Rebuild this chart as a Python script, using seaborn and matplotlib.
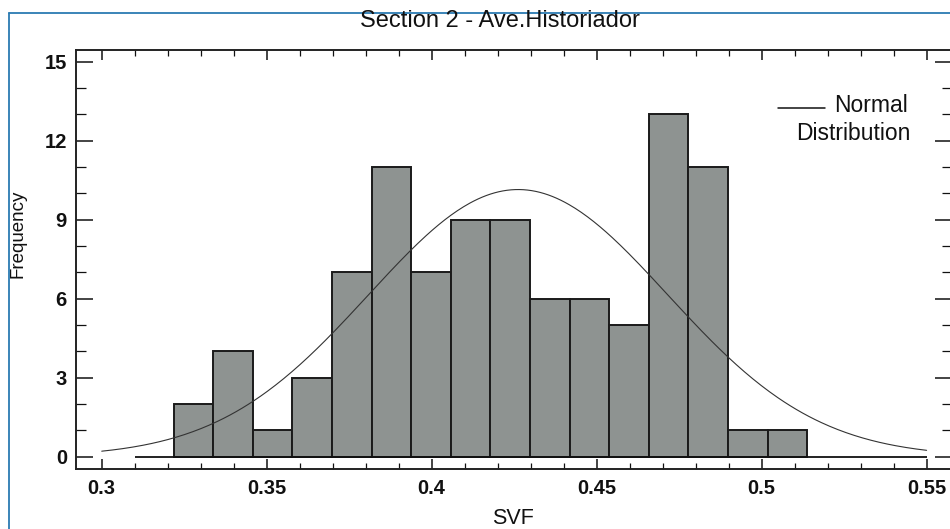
import numpy as np
import pandas as pd
import matplotlib
matplotlib.use("Agg")
import matplotlib.pyplot as plt
from matplotlib.lines import Line2D
from matplotlib.ticker import MultipleLocator
import seaborn as sns

# ---- data ----
counts = [2, 4, 1, 3, 7, 11, 7, 9, 9, 6, 6, 5, 13, 11, 1, 1]
bin_start = 0.3218
bin_width = 0.012
normal_mean = 0.4262
normal_sd = 0.0453
curve_range = (0.30, 0.55)
x_ticks = [0.3, 0.35, 0.4, 0.45, 0.5, 0.55]
x_tick_labels = ["0.3", "0.35", "0.4", "0.45", "0.5", "0.55"]
y_ticks = [0, 3, 6, 9, 12, 15]
title = "Section 2 - Ave.Historiador"

sns.set_theme(style="white")
plt.rcParams["font.family"] = ["Liberation Sans", "DejaVu Sans"]

edges = bin_start + bin_width * np.arange(len(counts) + 1)
centers = (edges[:-1] + edges[1:]) / 2
df = pd.DataFrame({"SVF": centers, "count": counts})

n_total = sum(counts)
xc = np.linspace(curve_range[0], curve_range[1], 400)
yc = n_total * bin_width / (normal_sd * np.sqrt(2 * np.pi)) * np.exp(-0.5 * ((xc - normal_mean) / normal_sd) ** 2)
curve = pd.DataFrame({"x": xc, "y": yc})

W, H = 950, 529
fig = plt.figure(figsize=(W / 100, H / 100), dpi=100)
ax = fig.add_axes([76 / W, (H - 469) / H, 876 / W, 419 / H])

sns.histplot(data=df, x="SVF", weights="count", binwidth=bin_width,
             binrange=(float(edges[0]), float(edges[-1])), stat="count",
             color="#8e9391", edgecolor="#1a1a1a", linewidth=1.4, alpha=1, ax=ax)
ax.hlines(0, 0.31, curve_range[1], color="#111111", lw=1.3, zorder=1)
sns.lineplot(data=curve, x="x", y="y", color="#333333", lw=0.8, ax=ax, zorder=3)

ax.set_xlim(0.2922, 0.5577)
ax.set_ylim(-0.467, 15.444)
ax.set_xticks(x_ticks)
ax.set_xticklabels(x_tick_labels)
ax.set_yticks(y_ticks)
ax.xaxis.set_minor_locator(MultipleLocator(0.01))
ax.yaxis.set_minor_locator(MultipleLocator(1))

for s in ax.spines.values():
    s.set_color("#222222")
    s.set_linewidth(1.4)

ax.tick_params(axis="x", which="major", direction="in", length=7, width=1.1,
               top=True, bottom=True, labelsize=14.5, pad=7, colors="#111111")
ax.tick_params(axis="x", which="minor", direction="in", length=4, width=0.9,
               top=True, bottom=True, colors="#111111")
ax.tick_params(axis="y", which="major", direction="in", length=12.5, width=1.1,
               left=True, right=True, labelsize=14.5, pad=6.5, colors="#111111")
ax.tick_params(axis="y", which="minor", direction="in", length=7, width=0.9,
               left=True, right=True, colors="#111111")
for lab in ax.get_xticklabels() + ax.get_yticklabels():
    lab.set_fontweight("bold")

ax.set_xlabel("SVF", fontsize=15.5, color="#111111")
ax.set_ylabel("Frequency", fontsize=13.5, color="#111111")
ax.xaxis.set_label_coords((513 - 76) / 876, (469 - 519) / 419)
ax.xaxis.label.set_va("center")
ax.yaxis.set_label_coords((18 - 76) / 876, (469 - 234) / 419)
ax.yaxis.label.set_va("center")

fig.text(500 / W, 1 - 21 / H, title, ha="center", va="center", fontsize=17, color="#111111")

# legend sample
fig.add_artist(Line2D([778 / W, 825 / W], [1 - 108 / H, 1 - 108 / H], color="#111111", lw=1.1))
fig.text(908 / W, 1 - 112 / H, "Normal", ha="right", va="baseline", fontsize=16.5, color="#111111")
fig.text(910 / W, 1 - 140 / H, "Distribution", ha="right", va="baseline", fontsize=16.5, color="#111111")

# blue frame
blue = "#2b7bb2"
fig.add_artist(Line2D([9 / W, 9 / W], [0, 1 - 12.5 / H], color=blue, lw=1.3))
fig.add_artist(Line2D([9 / W, 1], [1 - 12.5 / H, 1 - 12.5 / H], color=blue, lw=1.3))

fig.savefig("out.png", dpi=100)
